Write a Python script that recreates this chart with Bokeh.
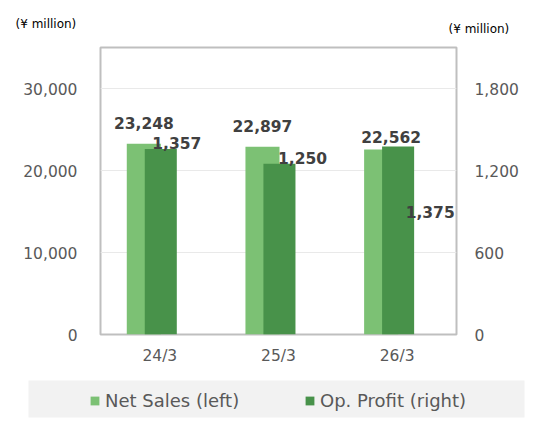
from bokeh.plotting import figure
from bokeh.layouts import column
from bokeh.models import (FactorRange, Range1d, LinearAxis, FixedTicker, ColumnDataSource,
                          Legend, LegendItem, LabelSet, BoxAnnotation, NumeralTickFormatter)
from bokeh.transform import dodge
from bokeh.core.properties import value
from bokeh.embed import file_html
from bokeh.resources import INLINE

# ---- data ----
periods = ["24/3", "25/3", "26/3"]
net_sales = [23248, 22897, 22562]
op_profit = [1357, 1250, 1375]
left_ticks = [0, 10000, 20000, 30000]
right_ticks = [0, 600, 1200, 1800]
unit_label = "(¥ million)"
series_names = ["Net Sales (left)", "Op. Profit (right)"]

# ---- style ----
FONT = "DejaVu Sans"
LIGHT = "#7CC174"
DARK = "#48924A"
TICK_COLOR = "#595959"
LABEL_COLOR = "#404040"

# label nudges in pixels (positive = up)
ns_label_dx = [-16, -16, -6]
ns_label_dy = [21, 21, 12.5]
op_label_dx = [17, 24, 33]
op_label_dy = [6, 6, -65]

src = ColumnDataSource(dict(
    period=periods, net=net_sales, op=op_profit,
    net_txt=[f"{v:,}" for v in net_sales], op_txt=[f"{v:,}" for v in op_profit],
    ns_dx=ns_label_dx, ns_dy=ns_label_dy, op_dx=op_label_dx, op_dy=op_label_dy,
))

def bare(fig):
    fig.outline_line_color = None
    fig.xgrid.visible = False
    fig.ygrid.visible = False
    fig.background_fill_color = "white"
    fig.border_fill_color = "white"
    return fig

# ---- top strip: unit captions ----
top = bare(figure(width=560, height=42, x_range=Range1d(0, 560), y_range=Range1d(42, 0),
                  x_axis_location=None, y_axis_location=None, min_border=0,
                  frame_align=False, output_backend="svg", toolbar_location=None))
top.text(x=[15, 448], y=[23, 28], text=[unit_label, unit_label],
         text_font=value(FONT), text_font_size="12px", text_color="#000000",
         text_align="left", text_baseline="middle")

# ---- main chart ----
p = figure(width=560, height=332, x_range=FactorRange(*periods), y_range=Range1d(0, 35000),
           output_backend="svg", toolbar_location=None, frame_align=False,
           min_border_left=100, min_border_right=104, min_border_top=5, min_border_bottom=40)
p.extra_y_ranges = {"right": Range1d(0, 2100)}
p.background_fill_color = "white"
p.border_fill_color = "white"
p.outline_line_color = "#BFBFBF"
p.outline_line_width = 2

r1 = p.vbar(x=dodge("period", -0.135, range=p.x_range), top="net", width=0.287, bottom=0,
            source=src, fill_color=LIGHT, line_color=None)
r2 = p.vbar(x=dodge("period", 0.008, range=p.x_range), top="op", width=0.27, bottom=0,
            source=src, fill_color=DARK, line_color=None, y_range_name="right")

p.add_layout(LabelSet(x="period", y="net", text="net_txt", source=src,
                      x_offset="ns_dx", y_offset="ns_dy",
                      text_font=value(FONT), text_font_size="15.5px", text_font_style="bold",
                      text_color=LABEL_COLOR, text_align="center", text_baseline="middle"))
p.add_layout(LabelSet(x="period", y="op", text="op_txt", source=src,
                      x_offset="op_dx", y_offset="op_dy", y_range_name="right",
                      text_font=value(FONT), text_font_size="15.5px", text_font_style="bold",
                      text_color=LABEL_COLOR, text_align="center", text_baseline="middle"))

for ax in (p.xaxis[0], p.yaxis[0]):
    ax.axis_line_color = None
    ax.major_tick_line_color = None
    ax.major_tick_out = 0
    ax.major_tick_in = 0
    ax.minor_tick_line_color = None
    ax.major_label_text_font = FONT
    ax.major_label_text_font_size = "15.5px"
    ax.major_label_text_color = TICK_COLOR

p.yaxis[0].ticker = FixedTicker(ticks=left_ticks)
p.yaxis[0].formatter = NumeralTickFormatter(format="0,0")
p.yaxis[0].major_label_standoff = 23
p.xaxis[0].major_label_standoff = 12

rax = LinearAxis(y_range_name="right", ticker=FixedTicker(ticks=right_ticks),
                 formatter=NumeralTickFormatter(format="0,0"))
rax.axis_line_color = None
rax.major_tick_line_color = None
rax.major_tick_out = 0
rax.major_tick_in = 0
rax.minor_tick_line_color = None
rax.major_label_text_font = FONT
rax.major_label_text_font_size = "15.5px"
rax.major_label_text_color = TICK_COLOR
rax.major_label_standoff = 18
p.add_layout(rax, "right")

p.xgrid.grid_line_color = None
p.ygrid.ticker = FixedTicker(ticks=left_ticks[1:])
p.ygrid.grid_line_color = "#E9E9E9"
p.ygrid.grid_line_width = 1

# ---- bottom strip: legend ----
leg = bare(figure(width=560, height=55, x_range=Range1d(0, 560), y_range=Range1d(55, 0),
                  x_axis_location=None, y_axis_location=None, min_border=0,
                  frame_align=False, output_backend="svg", toolbar_location=None))
leg.add_layout(BoxAnnotation(left=28, right=524, top=6, bottom=43,
                             fill_color="#F2F2F2", fill_alpha=1, line_color=None,
                             level="underlay"))
# key swatches: one off-canvas stand-in per series so the legend can draw its square
k1 = leg.vbar(x=[-100], top=[0], width=1, fill_color=LIGHT, line_color=None)
k2 = leg.vbar(x=[-100], top=[0], width=1, fill_color=DARK, line_color=None)
legend = Legend(items=[LegendItem(label=series_names[0], renderers=[k1]),
                       LegendItem(label=series_names[1], renderers=[k2])],
                orientation="horizontal", location=(89, 18), padding=0, spacing=47, margin=0,
                glyph_width=11, glyph_height=11, label_standoff=5, label_width=152,
                label_text_font=FONT, label_text_font_size="18px", label_text_color=TICK_COLOR,
                background_fill_alpha=0, border_line_color=None)
leg.add_layout(legend, "center")

layout = column(top, p, leg, spacing=0)
open("out.html", "w").write(file_html(layout, INLINE))
